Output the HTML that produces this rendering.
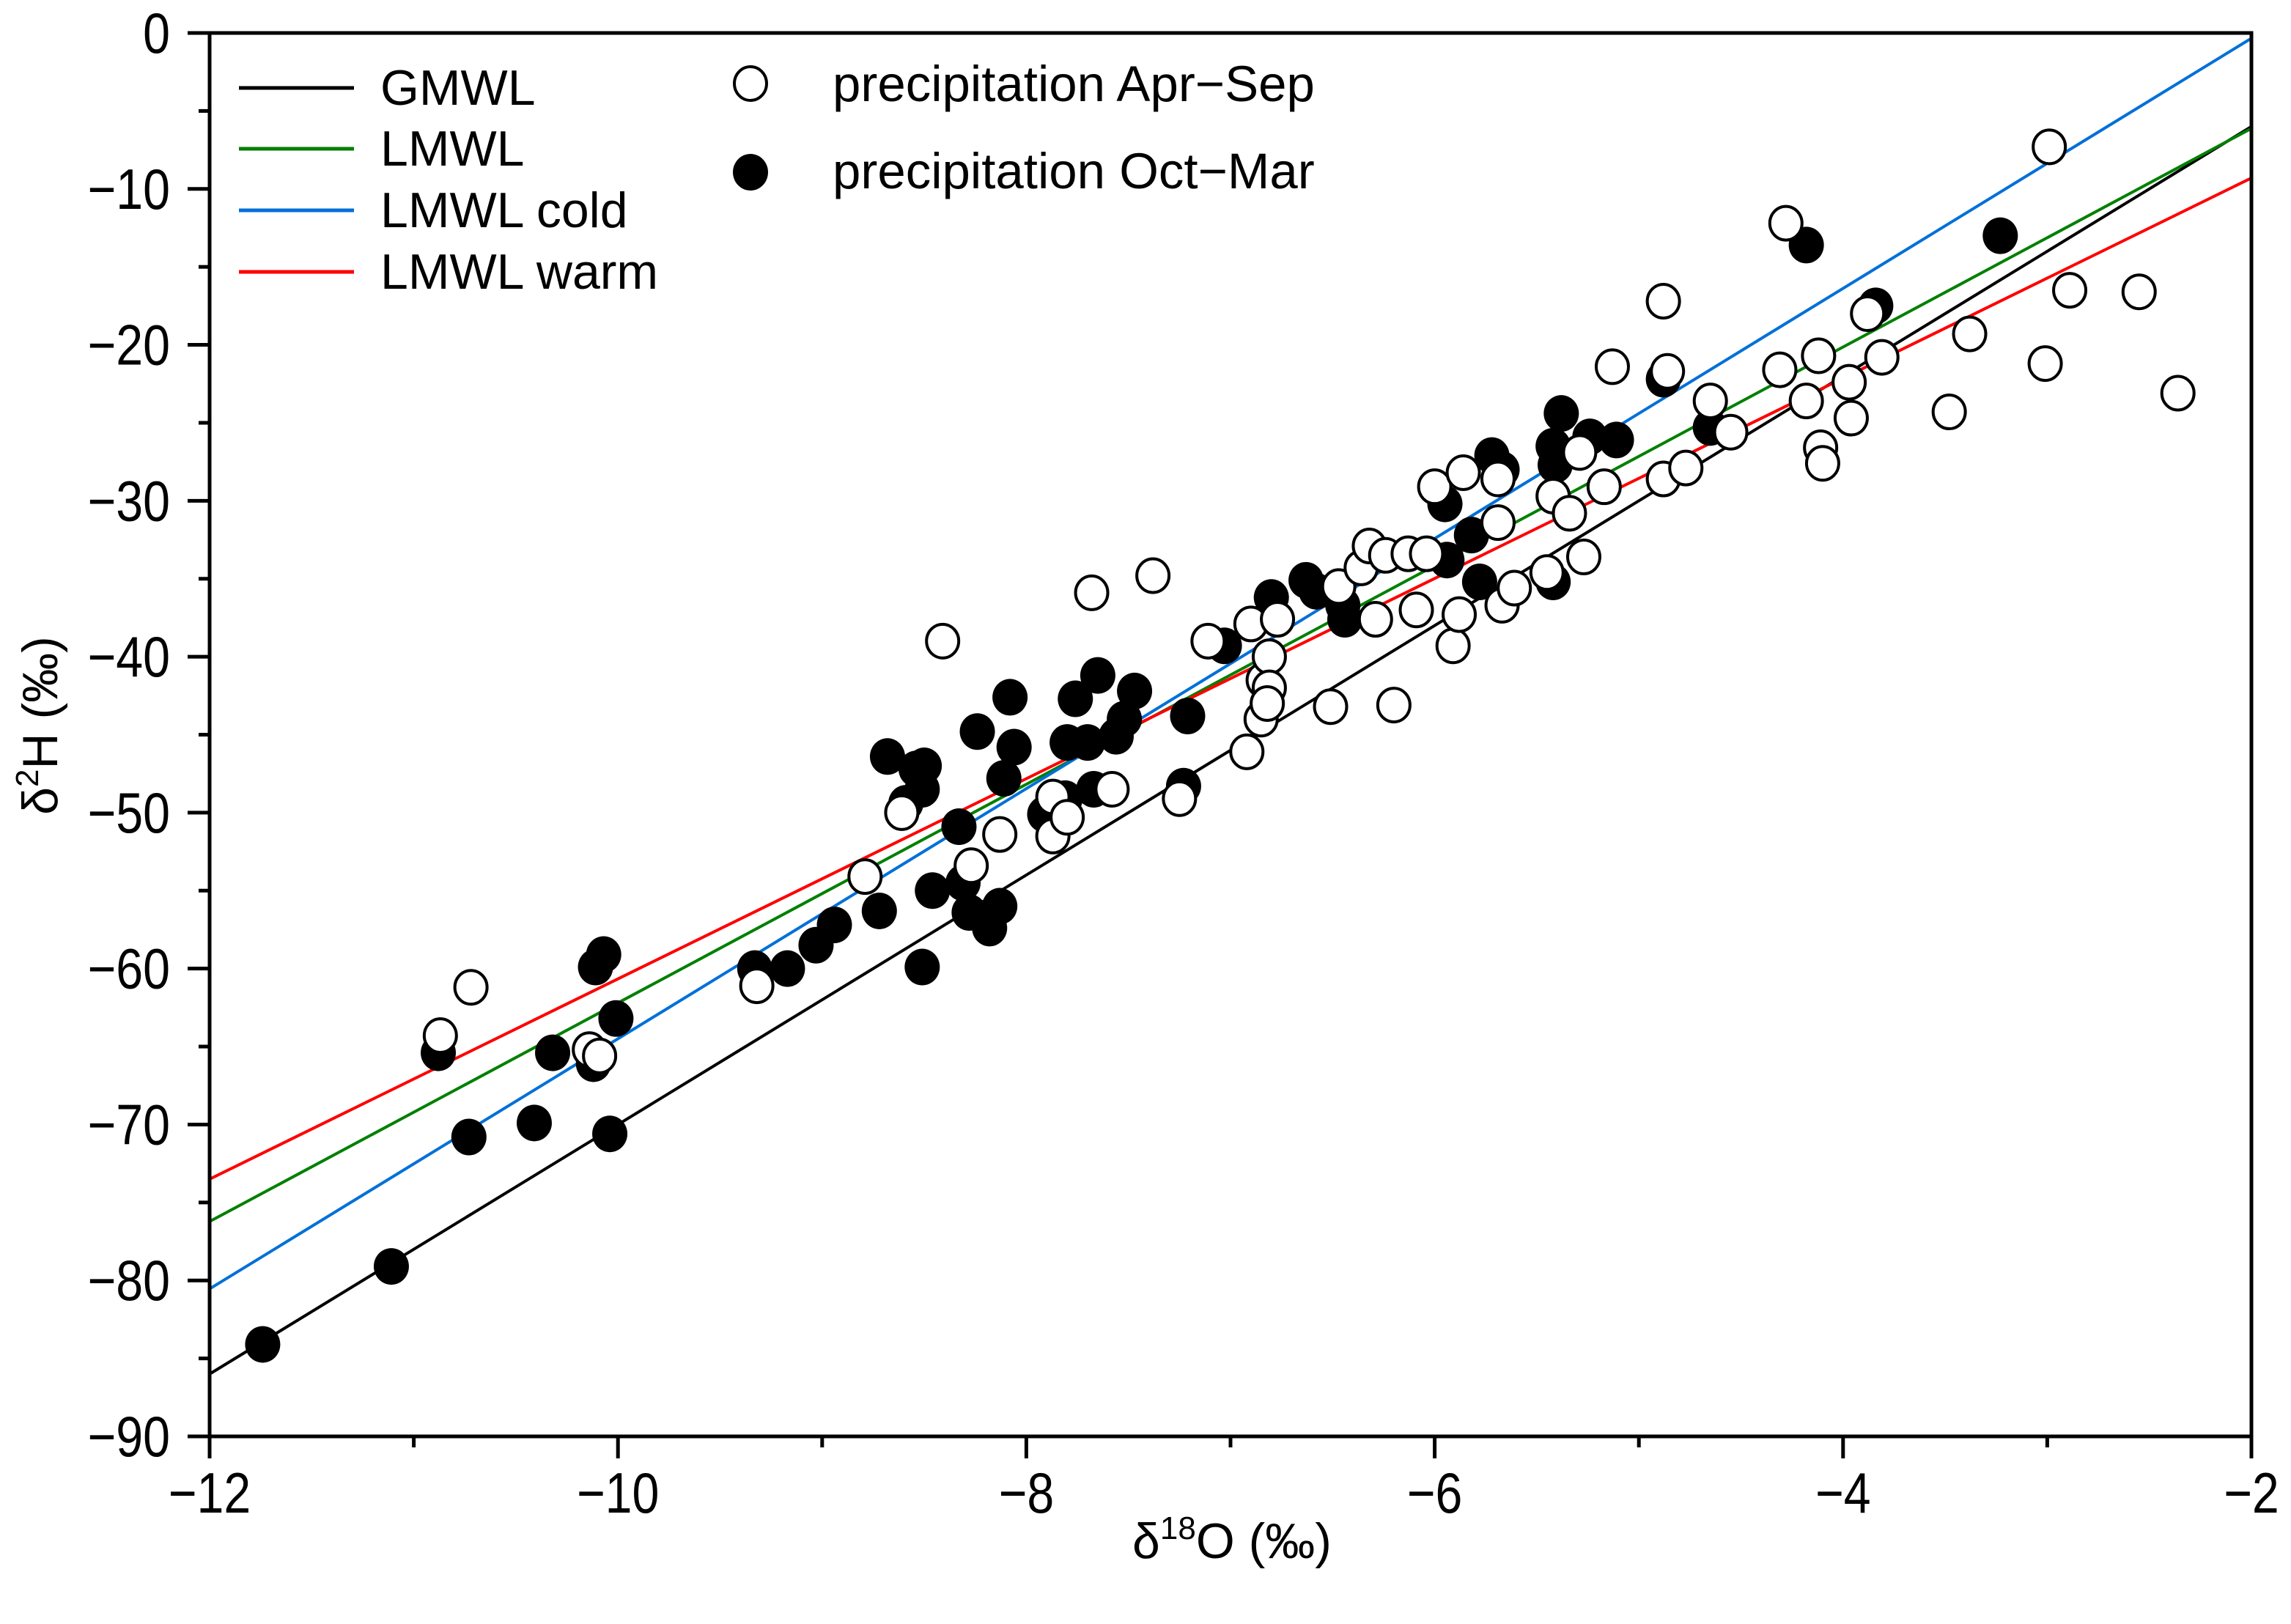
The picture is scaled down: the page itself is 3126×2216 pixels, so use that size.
<!DOCTYPE html>
<html><head><meta charset="utf-8"><style>
html,body{margin:0;padding:0;background:#fff;}
svg{display:block;font-family:"Liberation Sans",Arial,sans-serif;}
</style></head><body>
<svg id="chart" width="3126" height="2216" viewBox="0 0 3126 2216" xmlns="http://www.w3.org/2000/svg">
<rect width="3126" height="2216" fill="#fff"/>
<g id="lines"></g>
<g id="pts"></g>
<g id="axes"></g>
<g id="legend">
  <line x1="326" y1="120" x2="483" y2="120" stroke="#000" stroke-width="5"/>
  <text x="519" y="143" font-size="68">GMWL</text>
  <line x1="326" y1="203" x2="483" y2="203" stroke="#008000" stroke-width="5"/>
  <text x="519" y="226" font-size="68">LMWL</text>
  <line x1="326" y1="287" x2="483" y2="287" stroke="#0070d8" stroke-width="5"/>
  <text x="519" y="310" font-size="68">LMWL cold</text>
  <line x1="326" y1="371" x2="483" y2="371" stroke="#ff0000" stroke-width="5"/>
  <text x="519" y="394" font-size="68">LMWL warm</text>
  <ellipse cx="1024" cy="114" rx="22" ry="23" fill="#fff" stroke="#000" stroke-width="4"/>
  <text x="1136" y="138" font-size="69">precipitation Apr−Sep</text>
  <ellipse cx="1024" cy="235" rx="24" ry="25" fill="#000"/>
  <text x="1136" y="257" font-size="69">precipitation Oct−Mar</text>
</g>
<text x="1681" y="2126" font-size="68" text-anchor="middle">δ<tspan font-size="44" dy="-26">18</tspan><tspan dy="26">O (‰)</tspan></text>
<text transform="translate(78,990) rotate(-90)" font-size="68" text-anchor="middle">δ<tspan font-size="44" dy="-26">2</tspan><tspan dy="26">H (‰)</tspan></text>
</svg>
<script>
const xTicks=[-12,-10,-8,-6,-4,-2];
const yTicks=[0,-10,-20,-30,-40,-50,-60,-70,-80,-90];
const lineNames=["gmwl","lmwl","lmwl-cold","lmwl-warm"];
const lineSlopes=[8,7.01,8.02,6.42];
const lineIntercepts=[10,7.9,15.7,3.54];
const lineColors=["#000","#008000","#0070d8","#ff0000"];
const octX=[-11.74,-11.11,-10.88,-10.73,-10.41,-10.32,-10.11,-10.07,-10.12,-10.04,-10.01,-9.33,-9.17,-9.03,-8.94,-8.72,-8.68,-8.59,-8.54,-8.50,-8.51,-8.51,-8.46,-8.33,-8.31,-8.28,-8.24,-8.18,-8.13,-8.11,-8.08,-8.06,-7.91,-7.81,-7.80,-7.76,-7.70,-7.67,-7.65,-7.56,-7.52,-7.47,-7.21,-7.23,-7.03,-6.80,-6.63,-6.58,-6.44,-6.45,-5.95,-5.94,-5.82,-5.78,-5.72,-5.67,-5.42,-5.42,-5.41,-5.38,-5.24,-5.11,-4.88,-4.65,-4.18,-3.84,-3.23];
const octY=[-84.1,-79.1,-65.4,-70.8,-69.9,-65.4,-59.9,-59.1,-66.1,-70.6,-63.2,-60.0,-60.0,-58.5,-57.2,-56.3,-46.4,-49.4,-47.2,-47.0,-48.5,-59.9,-55.0,-50.9,-54.5,-56.4,-44.8,-57.4,-56.0,-47.8,-42.6,-45.8,-50.1,-49.1,-45.5,-42.7,-45.5,-48.5,-41.2,-45.1,-44.0,-42.2,-43.8,-48.3,-39.3,-36.2,-35.1,-35.8,-37.6,-36.7,-30.2,-33.8,-32.2,-35.2,-27.1,-28.0,-35.2,-26.5,-27.7,-24.4,-25.9,-26.1,-22.2,-25.3,-13.6,-17.5,-13.0];
const aprX=[-10.87,-10.72,-10.14,-10.09,-9.32,-8.79,-8.61,-8.41,-8.27,-8.13,-7.87,-7.87,-7.80,-7.68,-7.58,-7.38,-7.25,-7.11,-6.92,-6.90,-6.85,-6.84,-6.81,-6.81,-6.82,-6.77,-6.51,-6.47,-6.36,-6.32,-6.29,-6.24,-6.20,-6.13,-6.09,-6.04,-6.00,-5.91,-5.88,-5.86,-5.69,-5.69,-5.67,-5.61,-5.45,-5.42,-5.34,-5.29,-5.27,-5.17,-5.13,-4.88,-4.88,-4.86,-4.77,-4.65,-4.55,-4.31,-4.28,-4.18,-4.12,-4.11,-4.10,-3.97,-3.96,-3.88,-3.81,-3.48,-3.38,-3.01,-2.99,-2.89,-2.55,-2.36];
const aprY=[-64.3,-61.2,-65.2,-65.6,-61.1,-54.1,-50.0,-39.0,-53.4,-51.4,-51.5,-49.0,-50.3,-35.9,-48.5,-34.8,-49.1,-39.0,-46.1,-37.9,-44.0,-41.5,-40.0,-42.0,-43.0,-37.6,-43.2,-35.5,-34.3,-32.9,-37.6,-33.5,-43.1,-33.4,-37.0,-33.4,-29.1,-39.3,-37.3,-28.2,-31.4,-28.6,-36.7,-35.6,-34.6,-29.7,-30.8,-26.9,-33.6,-29.1,-21.4,-17.2,-28.6,-21.7,-27.9,-23.6,-25.6,-21.6,-12.2,-23.6,-20.7,-26.6,-27.6,-22.4,-24.7,-18.0,-20.8,-24.3,-19.3,-21.2,-7.3,-16.5,-16.6,-23.1];

const X0=286,X1=3072,Y0=45,Y1=1960;
const xs=v=>X0+(v-(-12))/10*(X1-X0);
const ys=v=>Y0+(0-v)/90*(Y1-Y0);
const NS="http://www.w3.org/2000/svg";
function mk(tag,attrs,parent){const e=document.createElementNS(NS,tag);for(const k in attrs)e.setAttribute(k,attrs[k]);parent.appendChild(e);return e;}
const gl=document.getElementById('lines'),gp=document.getElementById('pts'),ga=document.getElementById('axes');
const defs=mk('defs',{},document.getElementById('chart'));
const cp=mk('clipPath',{id:'clip'},defs);mk('rect',{x:X0,y:Y0,width:X1-X0,height:Y1-Y0},cp);
gl.setAttribute('clip-path','url(#clip)');
for(let i=0;i<lineNames.length;i++){
  const a=-12,b=-2;
  const l=mk('line',{x1:xs(a),y1:ys(lineSlopes[i]*a+lineIntercepts[i]),x2:xs(b),y2:ys(lineSlopes[i]*b+lineIntercepts[i]),stroke:lineColors[i],'stroke-width':4},gl);
  
  
}
for(let i=0;i<octX.length;i++){
  const c=mk('ellipse',{cx:xs(octX[i]),cy:ys(octY[i]),rx:24,ry:25,fill:'#000'},gp);
  
  
}
for(let i=0;i<aprX.length;i++){
  const c=mk('ellipse',{cx:xs(aprX[i]),cy:ys(aprY[i]),rx:22,ry:23,fill:'#fff',stroke:'#000','stroke-width':4},gp);
  
  
}
const fr=mk('rect',{x:X0,y:Y0,width:X1-X0,height:Y1-Y0,fill:'none',stroke:'#000','stroke-width':5},ga);


for(let v=-12;v<=-2;v+=1){
  const major=(v%2===0);
  const t=mk('line',{x1:xs(v),y1:Y1,x2:xs(v),y2:Y1+(major?30:15),stroke:'#000','stroke-width':5},ga);
  
  
}
xTicks.forEach(v=>{
  const t=mk('text',{transform:`translate(${xs(v)},2064) scale(0.85,1)`,'font-size':78,'text-anchor':'middle'},ga);
  t.textContent=(v<0?'−':'')+Math.abs(v);
  
  
});
for(let v=0;v>=-90;v-=5){
  const major=(v%10===0);
  const t=mk('line',{x1:X0-(major?30:15),y1:ys(v),x2:X0,y2:ys(v),stroke:'#000','stroke-width':5},ga);
  
  
}
yTicks.forEach(v=>{
  const t=mk('text',{transform:`translate(232,${ys(v)+27}) scale(0.85,1)`,'font-size':78,'text-anchor':'end'},ga);
  t.textContent=(v<0?'−':'')+Math.abs(v);
  
  
});
</script>
</body></html>
